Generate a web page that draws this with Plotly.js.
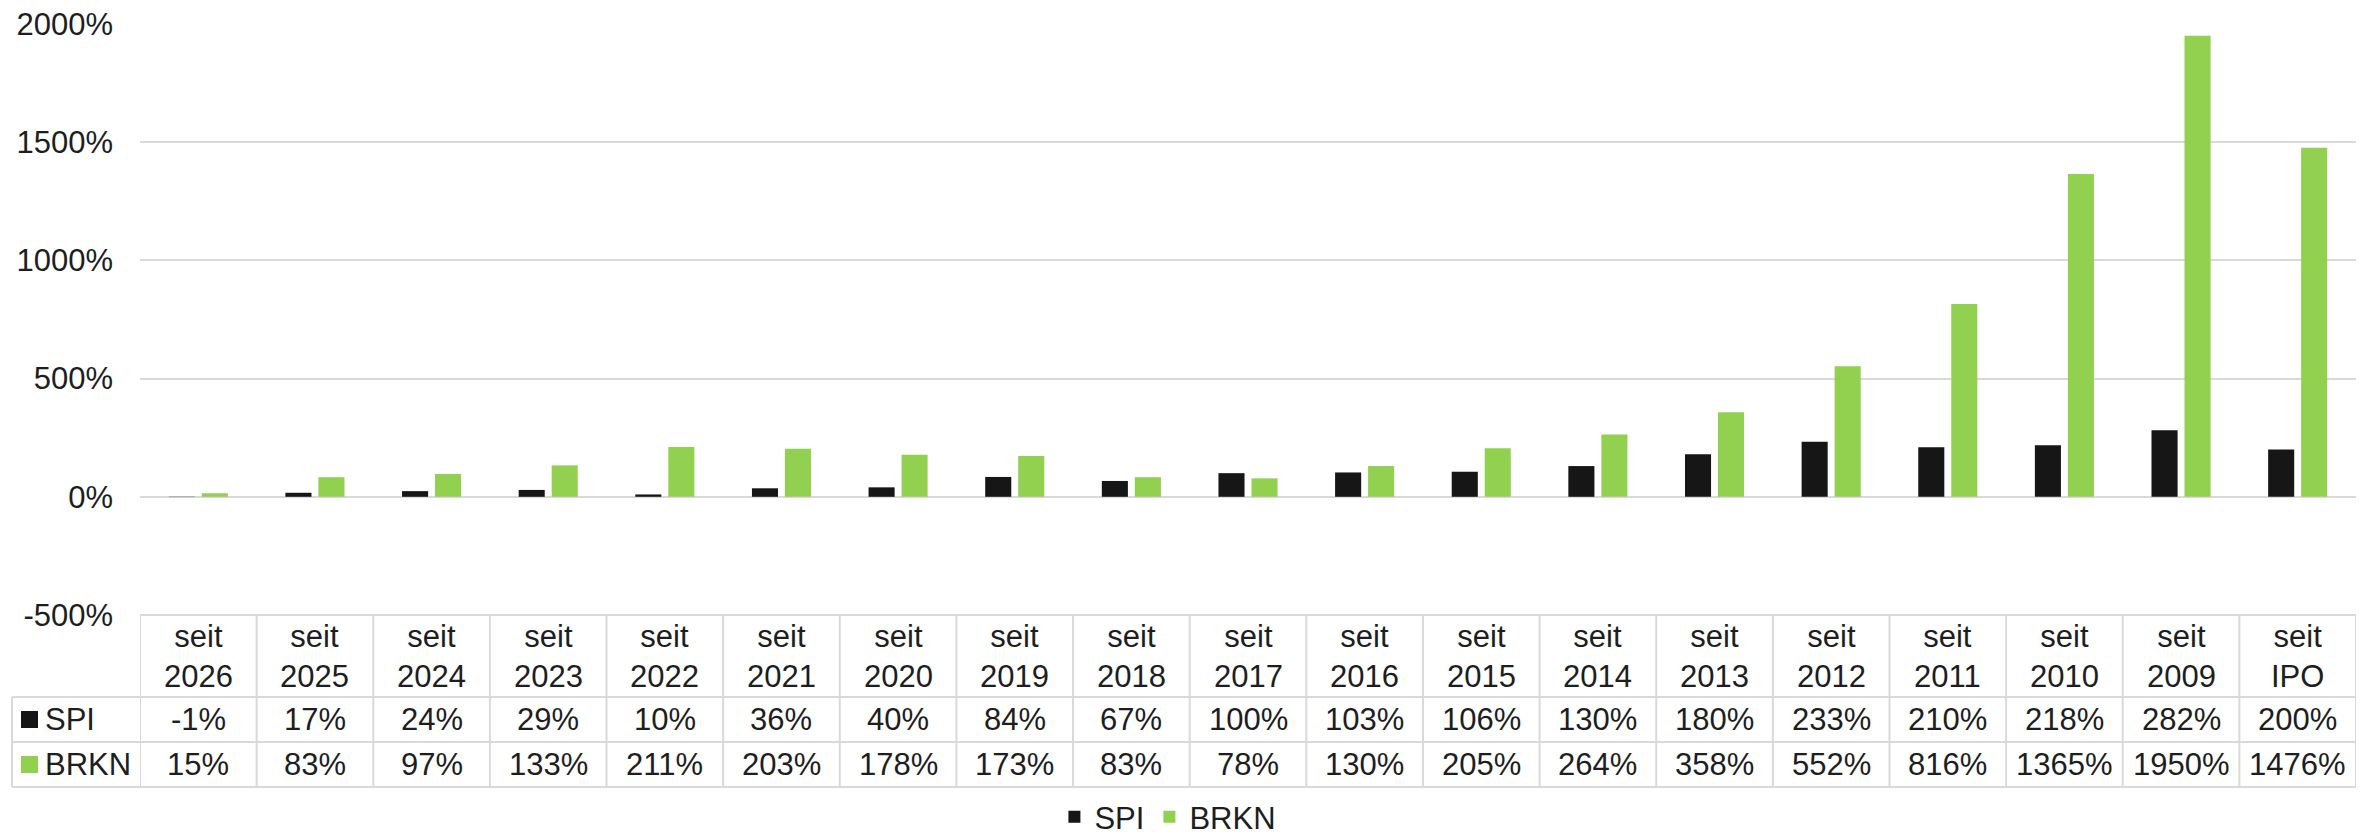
<!DOCTYPE html>
<html>
<head>
<meta charset="utf-8">
<script src="https://cdn.plot.ly/plotly-3.0.1.min.js"></script>
<style>html,body{margin:0;padding:0;background:#fff;}#chart{width:2369px;height:839px;}</style>
</head>
<body>
<div id="chart"></div>
<script>
const categories = ["seit 2026","seit 2025","seit 2024","seit 2023","seit 2022","seit 2021","seit 2020","seit 2019","seit 2018","seit 2017","seit 2016","seit 2015","seit 2014","seit 2013","seit 2012","seit 2011","seit 2010","seit 2009","seit IPO"];
const spiValues = [-1,17,24,29,10,36,40,84,67,100,103,106,130,180,233,210,218,282,200];
const brknValues = [15,83,97,133,211,203,178,173,83,78,130,205,264,358,552,816,1365,1950,1476];
const seriesNames = ["SPI","BRKN"];
const yTickVals = [-500,0,500,1000,1500,2000];

const W = 2369, H = 839, L = 140, R = 13, T = 24, B = 224;
const PW = W - L - R, PH = H - T - B;
const px = v => (v - L) / PW;
const py = v => (H - B - v) / PH;

const FONT = "Liberation Sans, Arial, sans-serif";
const TXT = "#1e1e1e";
const GRID = "#d9d9d9";
const COL_SPI = "#161616";
const COL_BRKN = "#92d050";

const traces = [
  {type:"bar", name:seriesNames[0], x:categories, y:spiValues, marker:{color:COL_SPI}, hoverinfo:"x+y"},
  {type:"bar", name:seriesNames[1], x:categories, y:brknValues, marker:{color:COL_BRKN}, hoverinfo:"x+y"}
];

const shapes = [];
const annotations = [];
const line = {color:GRID, width:2};

// table grid
const yTop = 0, yHead = py(697), yRow1 = py(742), yRow2 = py(787);
for (let i = 0; i <= categories.length; i++) {
  shapes.push({type:"line", xref:"x", yref:"paper", x0:i-0.5, x1:i-0.5, y0:yTop, y1:yRow2, line});
}
shapes.push({type:"line", xref:"paper", yref:"paper", x0:0, x1:1, y0:yTop, y1:yTop, line});
[yHead, yRow1, yRow2].forEach(y => shapes.push({type:"line", xref:"paper", yref:"paper", x0:px(12), x1:1, y0:y, y1:y, line}));
shapes.push({type:"line", xref:"paper", yref:"paper", x0:px(12), x1:px(12), y0:yHead, y1:yRow2, line});

// header + values
const rowCenters = [py(719.5), py(764.5)];
const seriesVals = [spiValues, brknValues];
categories.forEach((c, i) => {
  annotations.push({xref:"x", yref:"paper", x:i, y:py(656), text:c.replace(" ", "<br>"), showarrow:false,
    xanchor:"center", yanchor:"middle", font:{family:FONT, size:31, color:TXT}});
  seriesVals.forEach((vals, k) => {
    annotations.push({xref:"x", yref:"paper", x:i, y:rowCenters[k], text:vals[i] + "%", showarrow:false,
      xanchor:"center", yanchor:"middle", font:{family:FONT, size:31, color:TXT}});
  });
});

// row labels with keys
const cols = [COL_SPI, COL_BRKN];
seriesNames.forEach((n, k) => {
  const cy = k === 0 ? 719.5 : 764.5;
  shapes.push({type:"rect", xref:"paper", yref:"paper", x0:px(21), x1:px(38), y0:py(cy+8.5), y1:py(cy-8.5), fillcolor:cols[k], line:{width:0}});
  annotations.push({xref:"paper", yref:"paper", x:px(43), y:py(cy), text:n, showarrow:false,
    xanchor:"left", yanchor:"middle", font:{family:FONT, size:31, color:TXT}});
});

const layout = {
  width: W, height: H,
  margin: {l:L, r:R, t:T, b:B, pad:0},
  paper_bgcolor:"#fff", plot_bgcolor:"#fff",
  barmode:"group", bargap:0.434, bargroupgap:0.21,
  font:{family:FONT, size:31, color:TXT},
  xaxis:{type:"category", range:[-0.5, categories.length-0.5], showticklabels:false, showgrid:false, zeroline:false, showline:false, ticks:""},
  yaxis:{range:[-500,2000], tickvals:yTickVals, ticktext:yTickVals.map(v => v + "%"), showgrid:true, gridcolor:GRID, gridwidth:2,
    zeroline:false, showline:false, ticks:"", ticklabelstandoff:26, tickfont:{family:FONT, size:31, color:TXT}},
  showlegend:true,
  legend:{orientation:"h", xref:"container", yref:"container", x:0.493, xanchor:"center", y:1-817/H, yanchor:"middle",
    font:{family:FONT, size:31, color:TXT}, itemwidth:30, tracegroupgap:0, bgcolor:"rgba(0,0,0,0)"},
  shapes, annotations
};

Plotly.newPlot("chart", traces, layout, {displayModeBar:false, staticPlot:true});
</script>
</body>
</html>
